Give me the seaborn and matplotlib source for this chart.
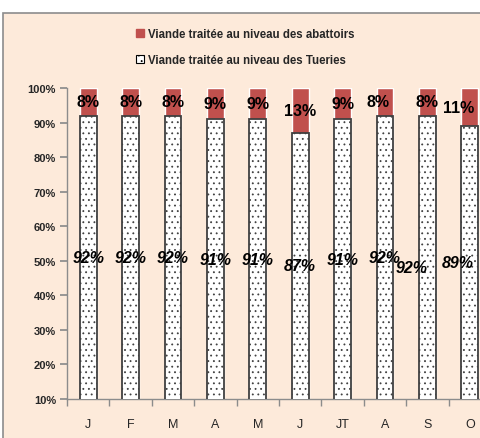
import numpy as np
import pandas as pd
import matplotlib
matplotlib.use("Agg")
import matplotlib.pyplot as plt
from matplotlib.patches import Patch, Rectangle
from matplotlib.transforms import offset_copy
import seaborn as sns

# ── data ──
months    = ["J", "F", "M", "A", "M ", "J ", "JT", "A ", "S", "O"]
month_lbl = ["J", "F", "M", "A", "M", "J", "JT", "A", "S", "O"]
tueries   = [92, 92, 92, 91, 91, 87, 91, 92, 92, 89]
abattoirs = [8, 8, 8, 9, 9, 13, 9, 8, 8, 11]

RED   = "#C0504D"
PEACH = "#FDEADA"
GREY  = "#8C8C8C"

# hand-moved labels in the original (pixel nudges: index -> (dx, dy))
nudge_bottom = {8: (-16, -10)}
nudge_top    = {7: (-7, 0)}

sns.set_theme(style="white")
plt.rcParams["font.family"] = ["Liberation Sans", "DejaVu Sans"]
plt.rcParams["hatch.linewidth"] = 0.6

df = pd.DataFrame({
    "month": months,
    "total": (np.array(tueries) + np.array(abattoirs)) / 100,
    "tueries": np.array(tueries) / 100,
})

fig = plt.figure(figsize=(4.81, 4.39), dpi=100)
fig.patch.set_facecolor("white")
# chart area frame (cut off at right/bottom like the original)
fig.patches.append(Rectangle((3 / 481, -0.05), 1.1, 1 - 14 / 439 + 0.05,
                             transform=fig.transFigure, facecolor=PEACH,
                             edgecolor=GREY, linewidth=1.2, zorder=-10))

ax = fig.add_axes([67 / 481, 1 - 400 / 439, 424 / 481, 311 / 439])
ax.set_facecolor("none")
ax.set_zorder(1)

# stacked 100%: red full bar, white dotted part drawn over it
sns.barplot(data=df, x="month", y="total", color=RED, width=0.4,
            saturation=1, ax=ax, zorder=2)
sns.barplot(data=df, x="month", y="tueries", color="white", width=0.4,
            saturation=1, ax=ax, zorder=3, edgecolor="#404040", linewidth=1.3)
for p in ax.containers[1]:
    p.set_hatch("...")

ax.set_ylim(0.1, 1.0)
ax.set_xlim(-0.5, 9.5)
ax.set_yticks(np.arange(0.1, 1.01, 0.1))
ax.set_yticklabels([f"{int(round(v * 100))}%" for v in np.arange(0.1, 1.01, 0.1)],
                   fontsize=8, fontweight="bold")
ax.set_xticks(range(len(months)))
ax.set_xticklabels(month_lbl, fontsize=9)
ax.set_xticks(np.arange(-0.5, len(months), 1), minor=True)
ax.tick_params(axis="x", which="major", length=0, pad=14)
ax.tick_params(axis="x", which="minor", length=5, color=GREY, direction="out", bottom=True)
ax.tick_params(axis="y", length=5, color=GREY, direction="out", left=True, pad=3)
ax.set_xlabel("")
ax.set_ylabel("")
for s in ("top", "right"):
    ax.spines[s].set_visible(False)
for s in ("left", "bottom"):
    ax.spines[s].set_color(GREY)
    ax.spines[s].set_linewidth(1.0)


def shift(tx, dx, dy):
    tx.set_transform(offset_copy(tx.get_transform(), fig=fig, x=dx, y=dy, units="dots"))


# data labels, centred on the visible part of each segment
texts = []
for i, (t, a) in enumerate(zip(tueries, abattoirs)):
    tb = ax.text(i, (0.1 + t / 100) / 2, f"{t}%", ha="center", va="center",
                 fontsize=11.5, fontweight="bold", fontstyle="italic",
                 color="black", family="Liberation Sans", zorder=5)
    tt = ax.text(i, (t / 100 + 1.0) / 2, f"{a}%", ha="center", va="center",
                 fontsize=11.5, fontweight="bold", color="black",
                 family="Liberation Sans", zorder=5)
    if i in nudge_bottom:
        shift(tb, *nudge_bottom[i])
    if i in nudge_top:
        shift(tt, *nudge_top[i])
    texts += [tb, tt]

# keep labels inside the visible chart (Excel pushes them in)
fig.canvas.draw()
for tx in texts:
    bb = tx.get_window_extent()
    if bb.x1 > 474:
        shift(tx, 474 - bb.x1, 0)

handles = [Patch(facecolor=RED, edgecolor=RED),
           Patch(facecolor="white", edgecolor="black", linewidth=0.8, hatch="...")]
fig.legend(handles, ["Viande traitée au niveau des abattoirs",
                     "Viande traitée au niveau des Tueries"],
           loc="center", bbox_to_anchor=(245 / 481, 1 - 48 / 439),
           frameon=False, ncol=1, handlelength=0.75, handleheight=0.75,
           handletextpad=0.3, labelspacing=1.25,
           prop={"family": "Liberation Sans", "weight": "bold", "size": 8.3})

fig.savefig("out.png", dpi=100, facecolor=fig.get_facecolor())
